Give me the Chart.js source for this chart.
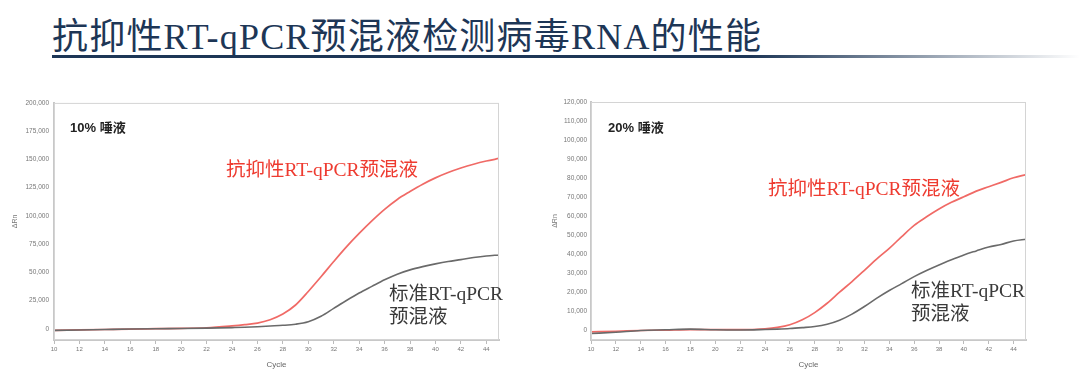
<!DOCTYPE html>
<html>
<head>
<meta charset="utf-8">
<script src="https://cdn.jsdelivr.net/npm/chart.js@4.4.0/dist/chart.umd.min.js"></script>
<style>
  html, body { margin: 0; padding: 0; background: #fff; }
  body { width: 1080px; height: 384px; position: relative; overflow: hidden; font-family: "Liberation Serif", "Noto Sans CJK SC", serif; }
  .title { position: absolute; left: 52px; top: 7px; font-size: 36px; color: #1d3656; white-space: nowrap; letter-spacing: 1.2px; }
  .rule { position: absolute; left: 52px; top: 55px; width: 1028px; height: 3px; background: linear-gradient(to right, #1d3656 0%, #1d3656 68%, #ffffff 100%); }
  .box { position: absolute; }
  .tag { position: absolute; font-family: "Liberation Sans", "Noto Sans CJK SC", sans-serif; font-weight: bold; font-size: 13px; color: #222; white-space: nowrap; }
  .red { position: absolute; font-size: 19.5px; color: #ee3b30; white-space: nowrap; font-family: "Liberation Serif", "Noto Sans CJK SC", serif; }
  .gray { position: absolute; font-size: 19.5px; color: #3a3a3a; line-height: 23px; white-space: nowrap; font-family: "Liberation Serif", "Noto Sans CJK SC", serif; }
</style>
</head>
<body>
<div class="title">抗抑性RT-qPCR预混液检测病毒RNA的性能</div>
<div class="rule"></div>

<div class="box" style="left:0;top:94px;width:510px;height:276px;"><canvas id="left"></canvas></div>
<div class="box" style="left:545px;top:94px;width:492px;height:276px;"><canvas id="right"></canvas></div>

<div class="tag" style="left:70px;top:117px;">10% 唾液</div>
<div class="red" style="left:226px;top:153px;">抗抑性RT-qPCR预混液</div>
<div class="gray" style="left:389px;top:282px;">标准RT-qPCR<br>预混液</div>

<div class="tag" style="left:608px;top:117px;">20% 唾液</div>
<div class="red" style="left:768px;top:172px;">抗抑性RT-qPCR预混液</div>
<div class="gray" style="left:911px;top:279px;">标准RT-qPCR<br>预混液</div>

<script>
const cycles = [10, 12, 14, 16, 18, 20, 22, 24, 25, 26, 27, 28, 29, 30, 31, 32, 33, 34, 35, 36, 37, 38, 39, 40, 41, 42, 43, 44, 45];

// 10% saliva
const red10 = [-1500, -1100, -700, -300, 0, 300, 800, 2500, 3600, 5000, 8000, 13000, 21000, 33000, 46000, 59500, 72500, 84400, 95500, 105700, 114500, 121500, 128000, 133600, 138300, 142300, 145700, 148500, 150800];
const gray10 = [-1500, -1100, -700, -300, 0, 200, 500, 1000, 1300, 1800, 2400, 3000, 4000, 6200, 11000, 18000, 25000, 31600, 37500, 43300, 48300, 52100, 55000, 57400, 59500, 61200, 63000, 64400, 65300];
const yTicks10 = [0, 25000, 50000, 75000, 100000, 125000, 150000, 175000, 200000];

// 20% saliva
const red20 = [-700, -400, 0, 200, 500, 400, 400, 900, 1600, 3000, 5600, 9400, 14300, 20100, 25700, 31600, 37600, 43100, 49300, 55200, 59700, 63800, 67300, 70200, 73200, 75500, 77800, 80200, 81900];
const gray20 = [-1600, -900, 0, 350, 700, 350, 250, 500, 700, 1000, 1500, 2100, 3300, 5400, 8600, 12600, 17000, 21000, 24600, 28300, 31500, 34400, 37100, 39700, 41800, 43800, 45200, 47000, 47900];
const yTicks20 = [0, 10000, 20000, 30000, 40000, 50000, 60000, 70000, 80000, 90000, 100000, 110000, 120000];

const xTitle = 'Cycle';
const yTitle = 'ΔRn';

const frame = {
  id: 'frame',
  afterDraw(chart) {
    const a = chart.chartArea, c = chart.ctx;
    c.save();
    c.strokeStyle = '#d4d4d4';
    c.lineWidth = 1;
    c.strokeRect(a.left + 0.5, a.top + 0.5, a.right - a.left - 1, a.bottom - a.top - 1);
    c.restore();
  }
};

function makeChart(id, red, gray, ymin, ymax, yTicks, yw, tpad, lpad) {
  return new Chart(document.getElementById(id), {
    type: 'line',
    data: {
      labels: cycles,
      datasets: [
        { data: cycles.map((c, i) => ({ x: c, y: gray[i] })), borderColor: '#6a6a6a', borderWidth: 1.6 },
        { data: cycles.map((c, i) => ({ x: c, y: red[i] })), borderColor: '#f06a66', borderWidth: 1.7 }
      ]
    },
    options: {
      responsive: true,
      maintainAspectRatio: false,
      animation: false,
      layout: { padding: { left: 0, right: 11, top: 8, bottom: 0 } },
      elements: { point: { radius: 0 }, line: { cubicInterpolationMode: 'monotone' } },
      plugins: { legend: { display: false }, tooltip: { enabled: false } },
      scales: {
        x: {
          type: 'linear', min: 10, max: 45,
          ticks: { stepSize: 2, includeBounds: false, color: '#777', font: { size: 6, family: 'Liberation Sans' }, padding: 2, maxRotation: 0 },
          grid: { display: true, drawOnChartArea: false, tickLength: 4, color: '#bbb' },
          border: { color: '#c8c8c8', width: 2 },
          title: { display: true, text: xTitle, color: '#666', font: { size: 8, family: 'Liberation Sans' }, padding: 0 },
          afterFit: s => { s.height = 30; }
        },
        y: {
          min: ymin, max: ymax,
          afterBuildTicks: s => { s.ticks = yTicks.map(v => ({ value: v })); },
          ticks: { color: '#777', font: { size: 6.5, family: 'Liberation Sans' }, padding: lpad, callback: v => v.toLocaleString('en-US') },
          grid: { display: false, drawTicks: false },
          border: { color: '#c8c8c8', width: 2 },
          title: { display: true, text: yTitle, color: '#777', font: { size: 7, family: 'Liberation Sans' }, padding: { top: tpad, bottom: 0 } },
          afterFit: s => { s.width = yw; }
        }
      }
    },
    plugins: [frame]
  });
}

makeChart('left', red10, gray10, -10000, 200000, yTicks10, 54, 11, 5);
makeChart('right', red20, gray20, -5000, 120000, yTicks20, 46, 6, 4);
</script>
</body>
</html>
